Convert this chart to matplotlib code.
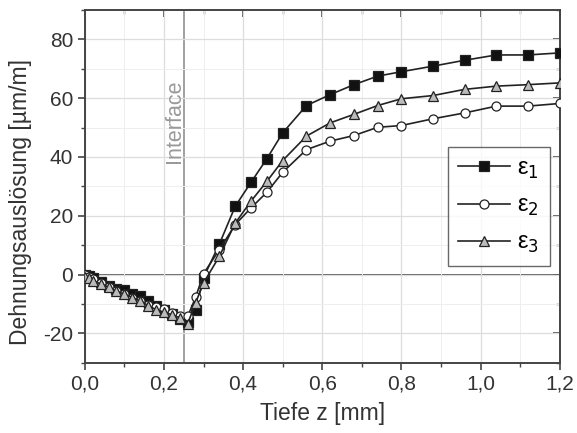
import matplotlib.pyplot as plt
from matplotlib.ticker import MultipleLocator, FuncFormatter

plt.rcParams['font.family'] = ['Liberation Sans', 'DejaVu Sans']

# Tiefe z [mm]
tiefe = [0.00, 0.01, 0.02, 0.04, 0.06, 0.08, 0.10, 0.12, 0.14, 0.16, 0.18,
         0.20, 0.22, 0.24, 0.26, 0.28, 0.30, 0.34, 0.38, 0.42, 0.46, 0.50,
         0.56, 0.62, 0.68, 0.74, 0.80, 0.88, 0.96, 1.04, 1.12, 1.20]

# Dehnungsauslösung [µm/m]
eps1 = [0.0, -0.5, -1.0, -2.5, -4.0, -5.0, -5.3, -6.5, -7.4, -8.8, -10.5,
        -12.0, -13.5, -15.0, -16.0, -12.0, -1.0, 10.4, 23.2, 31.4, 39.4, 48.2,
        57.5, 61.2, 64.6, 67.5, 69.0, 70.9, 72.9, 74.7, 74.7, 75.4]
eps2 = [0.0, -0.8, -1.5, -2.8, -4.2, -5.5, -6.5, -7.8, -9.0, -10.2, -11.0,
        -11.7, -13.0, -14.0, -14.2, -7.7, 0.3, 8.5, 17.0, 22.7, 28.0, 34.8,
        42.5, 45.4, 47.3, 50.1, 50.7, 53.0, 55.0, 57.3, 57.3, 58.2]
eps3 = [-0.9, -1.2, -2.0, -3.2, -4.2, -5.7, -6.6, -7.8, -9.0, -10.5, -11.9,
        -12.8, -13.6, -14.7, -16.7, -9.6, -2.8, 6.2, 17.5, 25.0, 31.7, 38.8,
        47.1, 51.6, 54.5, 57.5, 59.8, 60.9, 63.0, 64.1, 64.6, 65.2]

interface_z = 0.25

fig = plt.figure(figsize=(5.77, 4.33), dpi=100)
ax = fig.add_axes([0.147, 0.162, 0.823, 0.815])

ax.grid(True, which='major', color='#dddddd', lw=0.9, zorder=0)
ax.grid(True, which='minor', color='#eeeeee', lw=0.7, zorder=0)

ax.axhline(0, color='#555555', lw=1.3, zorder=1)
ax.axvline(interface_z, color='#999999', lw=1.3, zorder=1)
ax.text(0.226, 52, 'Interface', rotation=90, color='#999999', fontsize=15.5,
        ha='center', va='center')

line_kw = dict(color='#222222', lw=1.2, markersize=6.5, markeredgecolor='#222222',
               markeredgewidth=0.9, zorder=3)
ax.plot(tiefe, eps1, marker='s', markerfacecolor='#111111', label='ε$_1$', **line_kw)
ax.plot(tiefe, eps2, marker='o', markerfacecolor='white', label='ε$_2$', **line_kw)
ax.plot(tiefe, eps3, marker='^', markerfacecolor='#bbbbbb', label='ε$_3$', **line_kw)

ax.set_xlim(0, 1.2)
ax.set_ylim(-30, 90)
ax.xaxis.set_major_locator(MultipleLocator(0.2))
ax.xaxis.set_minor_locator(MultipleLocator(0.1))
ax.yaxis.set_major_locator(MultipleLocator(20))
ax.yaxis.set_minor_locator(MultipleLocator(10))
ax.xaxis.set_major_formatter(FuncFormatter(lambda v, p: f'{v:.1f}'.replace('.', ',')))
ax.yaxis.set_major_formatter(FuncFormatter(lambda v, p: '' if v > 80 or v < -20 else f'{v:.0f}'))

ax.tick_params(which='both', direction='out', color='#444444', labelsize=15,
               labelcolor='#333333', top=False, right=False)
ax.tick_params(which='major', length=5, width=1.2)
ax.tick_params(which='minor', length=3, width=1.0)

# inward ticks on the top and right frame
sec_x = ax.secondary_xaxis('top')
sec_x.xaxis.set_major_locator(MultipleLocator(0.2))
sec_x.xaxis.set_minor_locator(MultipleLocator(0.1))
sec_x.tick_params(which='both', direction='in', color='#444444', labeltop=False)
sec_x.tick_params(which='major', length=5, width=1.2)
sec_x.tick_params(which='minor', length=3, width=1.0)
sec_y = ax.secondary_yaxis('right')
sec_y.yaxis.set_major_locator(MultipleLocator(20))
sec_y.yaxis.set_minor_locator(MultipleLocator(10))
sec_y.tick_params(which='both', direction='in', color='#444444', labelright=False)
sec_y.tick_params(which='major', length=5, width=1.2)
sec_y.tick_params(which='minor', length=3, width=1.0)
for s in (sec_x, sec_y):
    for sp in s.spines.values():
        sp.set_visible(False)

for sp in ax.spines.values():
    sp.set_color('#444444')
    sp.set_linewidth(1.4)

ax.set_xlabel('Tiefe z [mm]', fontsize=16.5, color='#333333', labelpad=6)
ax.set_ylabel('Dehnungsauslösung [µm/m]', fontsize=16.5, color='#333333')
ax.yaxis.set_label_coords(-0.112, 0.455)

leg = ax.legend(loc='upper left', bbox_to_anchor=(0.764, 0.612), fontsize=17,
                frameon=True, fancybox=False, handlelength=2.2, borderpad=0.45,
                labelspacing=0.6, handletextpad=0.3, borderaxespad=0)
leg.get_frame().set_edgecolor('#444444')
leg.get_frame().set_linewidth(1.0)

fig.savefig('out.png', dpi=100)
